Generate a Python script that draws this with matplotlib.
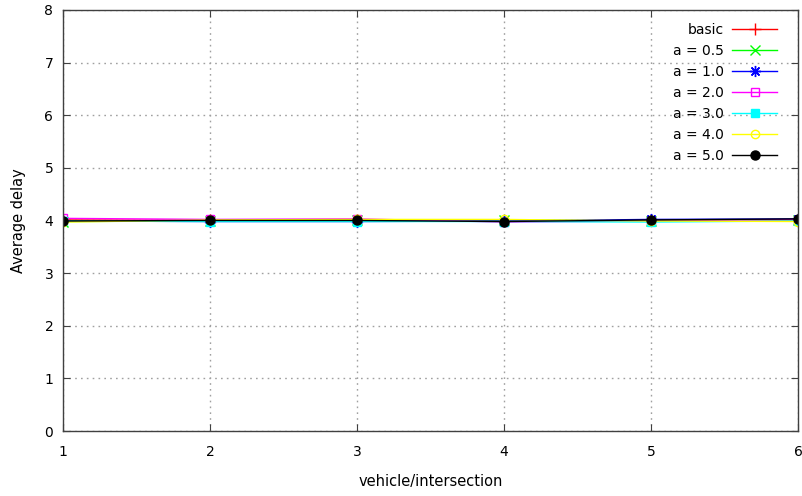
import matplotlib
matplotlib.use("Agg")
from matplotlib import pyplot as plt

# data
vehicles = [1, 2, 3, 4, 5, 6]
basic = [4.01, 4.00, 4.01, 3.99, 4.00, 4.02]
a_05 = [3.98, 3.99, 4.00, 4.01, 3.99, 4.00]
a_10 = [3.99, 3.98, 3.98, 3.99, 4.02, 4.03]
a_20 = [4.04, 4.02, 4.03, 3.97, 3.99, 4.01]
a_30 = [3.99, 3.98, 3.98, 3.98, 3.97, 3.99]
a_40 = [3.97, 4.01, 4.02, 4.02, 3.99, 3.98]
a_50 = [3.99, 4.00, 4.00, 3.98, 4.01, 4.03]

labels = ["basic", "a = 0.5", "a = 1.0", "a = 2.0", "a = 3.0", "a = 4.0", "a = 5.0"]
series = [basic, a_05, a_10, a_20, a_30, a_40, a_50]
colors = ["#ff0000", "#00ff00", "#0000ff", "#ff00ff", "#00ffff", "#ffff00", "#000000"]
markers = ["+", "x", (8, 2, 0), "s", "s", "o", "o"]
sizes = [8, 7, 8, 6, 6, 6, 6.5]
filled = [True, True, True, False, True, False, True]

plt.rcParams["font.family"] = ["DejaVu Sans"]
plt.rcParams["font.size"] = 10

fig = plt.figure(figsize=(8.03, 4.96), dpi=100)
ax = fig.add_axes([0.0785, 0.131, 0.9153, 0.849])

for y, lab, c, m, sz, f in zip(series, labels, colors, markers, sizes, filled):
    ax.plot(vehicles, y, color=c, lw=1.0, marker=m, markersize=sz,
            markerfacecolor=c if f else "none", markeredgecolor=c,
            markeredgewidth=1.0, label=lab)

ax.set_xlim(1, 6)
ax.set_ylim(0, 8)
ax.set_xticks(vehicles)
ax.set_yticks(range(0, 9))
ax.tick_params(direction="in", top=True, right=True, length=5,
               colors="#404040", labelcolor="black", labelsize=10)
ax.tick_params(axis="x", pad=10)
ax.tick_params(axis="y", pad=7)
ax.grid(True, color="#a0a0a0", linestyle=(0, (1.2, 3.0)), linewidth=1.0)
for s in ax.spines.values():
    s.set_color("#404040")
    s.set_linewidth(1.0)

ax.set_xlabel("vehicle/intersection", labelpad=11, fontsize=10.5)
ax.set_ylabel("Average delay", labelpad=13, fontsize=10.5)

ax.legend(loc="upper right", bbox_to_anchor=(0.989, 0.998),
          markerfirst=False, frameon=False,
          handlelength=3.25, labelspacing=0.5, handletextpad=0.6,
          borderaxespad=0.5, fontsize=10)

fig.savefig("out.png", dpi=100)
